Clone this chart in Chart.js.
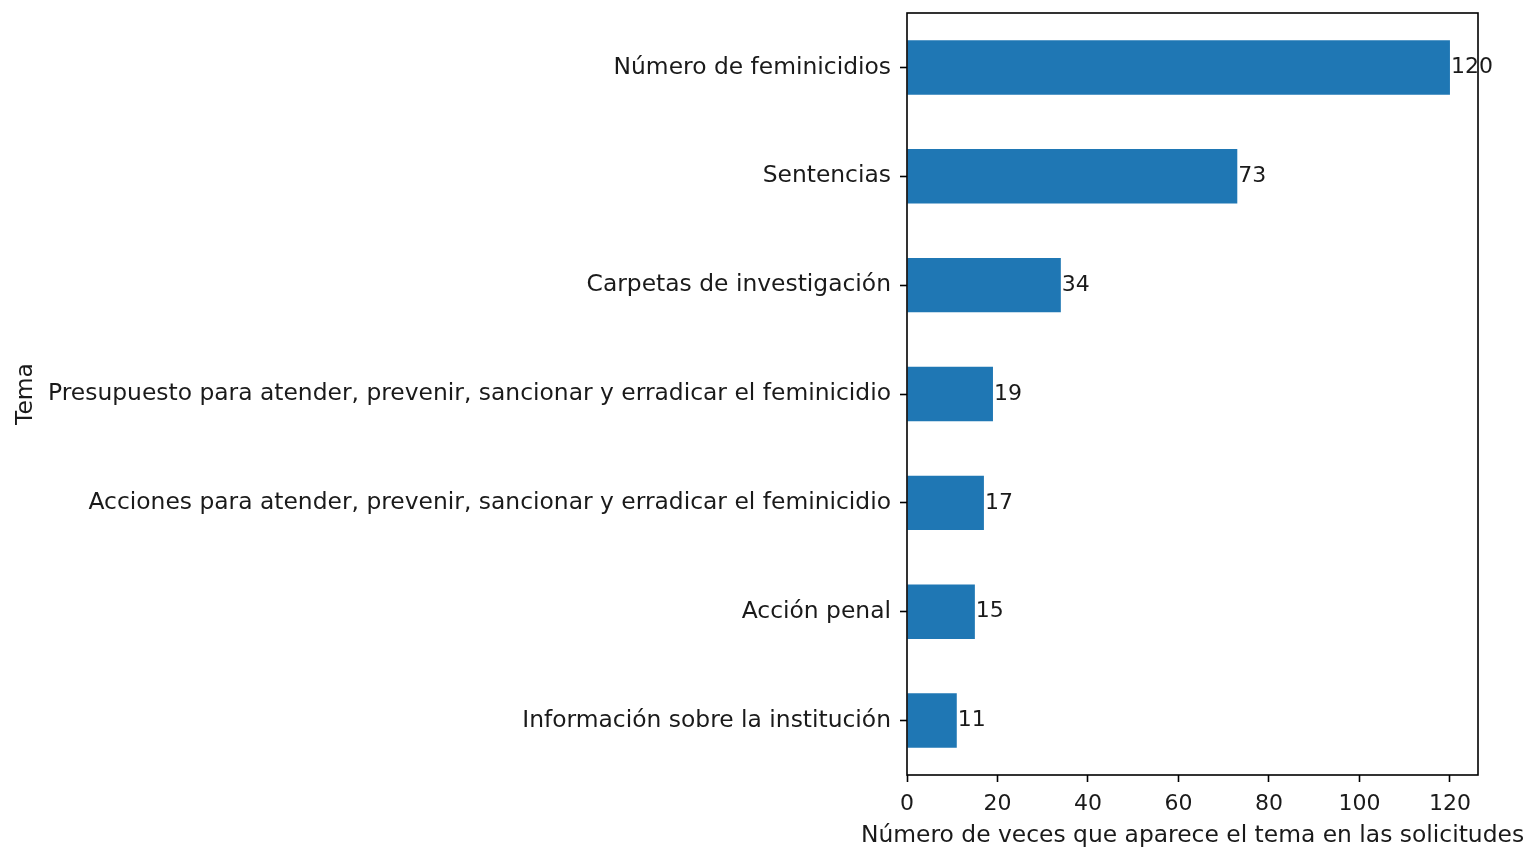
<!DOCTYPE html>
<html>
<head>
<meta charset="utf-8">
<script src="https://cdn.jsdelivr.net/npm/chart.js@4"></script>
<style>
  html, body { margin: 0; padding: 0; background: #fff; }
  #wrap { width: 1526px; height: 849px; }
</style>
</head>
<body>
<div id="wrap"><canvas id="myChart" width="1526" height="849"></canvas></div>
<script>
'use strict';

// data
const temas = [
  'Número de feminicidios',
  'Sentencias',
  'Carpetas de investigación',
  'Presupuesto para atender, prevenir, sancionar y erradicar el feminicidio',
  'Acciones para atender, prevenir, sancionar y erradicar el feminicidio',
  'Acción penal',
  'Información sobre la institución'
];
const veces = [120, 73, 34, 19, 17, 15, 11];
const xTicks = [0, 20, 40, 60, 80, 100, 120];
const xTitle = 'Número de veces que aparece el tema en las solicitudes';

const fontFam = 'DejaVu Sans';
const textColor = '#1a1a1a';
const labelSize = 23.4;

// box round the plot, like the matplotlib spines
const frameBox = {
  id: 'frameBox',
  afterDraw(chart) {
    const a = chart.chartArea;
    const ctx = chart.ctx;
    ctx.save();
    ctx.strokeStyle = '#000';
    ctx.lineWidth = 1.6;
    ctx.strokeRect(a.left, a.top, a.right - a.left, a.bottom - a.top);

    // x title drawn by hand so chart.js does not squeeze it
    ctx.font = labelSize + 'px "' + fontFam + '"';
    ctx.fillStyle = textColor;
    ctx.textAlign = 'center';
    ctx.textBaseline = 'middle';
    ctx.fillText(xTitle, (a.left + a.right) / 2, 836);
    ctx.restore();
  }
};

// numbers at the end of each bar
const barLabels = {
  id: 'barLabels',
  afterDatasetsDraw(chart) {
    const ctx = chart.ctx;
    const meta = chart.getDatasetMeta(0);
    ctx.save();
    ctx.font = '22px "' + fontFam + '"';
    ctx.fillStyle = textColor;
    ctx.textAlign = 'left';
    ctx.textBaseline = 'middle';
    meta.data.forEach((bar, i) => {
      ctx.fillText(String(veces[i]), bar.x + 1, bar.y);
    });
    ctx.restore();
  }
};

const ctx = document.getElementById('myChart');

let config = {
  type: 'bar',
  data: {
    labels: temas,
    datasets: [
      {
        label: 'Tema',
        data: veces,
        backgroundColor: '#1f77b4',
        borderWidth: 0,
        barPercentage: 0.5,
        categoryPercentage: 1.0
      }
    ]
  },
  options: {
    indexAxis: 'y',
    responsive: false,
    animation: false,
    layout: {
      padding: { top: 13, right: 48, left: 0, bottom: 0 }
    },
    plugins: {
      legend: { display: false },
      tooltip: { enabled: false }
    },
    scales: {
      x: {
        min: 0,
        max: 126.2,
        afterBuildTicks(axis) {
          axis.ticks = xTicks.map(v => ({ value: v }));
        },
        afterFit(axis) {
          axis.height = 74;
          axis.paddingLeft = 0;
          axis.paddingRight = 0;
        },
        grid: {
          drawOnChartArea: false,
          drawTicks: true,
          tickLength: 7,
          tickColor: '#000',
          tickWidth: 1.6
        },
        border: { display: false },
        ticks: {
          color: textColor,
          font: { family: fontFam, size: 22 },
          padding: 9,
          maxRotation: 0
        },
        title: { display: false }
      },
      y: {
        offset: true,
        afterFit(axis) {
          axis.width = 907;
          axis.paddingTop = 0;
          axis.paddingBottom = 0;
        },
        grid: {
          drawOnChartArea: false,
          drawTicks: true,
          tickLength: 7,
          tickColor: '#000',
          tickWidth: 1.6,
          offset: false
        },
        border: { display: false },
        ticks: {
          color: textColor,
          font: { family: fontFam, size: labelSize },
          padding: 9,
          autoSkip: false
        },
        title: {
          display: true,
          text: 'Tema',
          color: textColor,
          font: { family: fontFam, size: labelSize },
          padding: { top: 12, bottom: 0 }
        }
      }
    }
  },
  plugins: [frameBox, barLabels]
};

let chart = new Chart(ctx, config);
</script>
</body>
</html>
